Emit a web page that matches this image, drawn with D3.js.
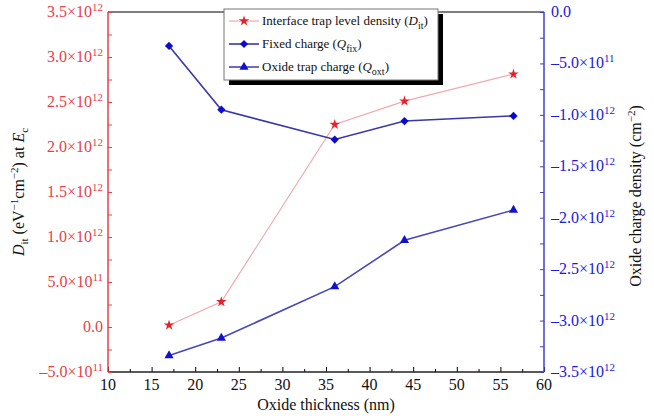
<!DOCTYPE html>
<html>
<head>
<meta charset="utf-8">
<script src="https://cdn.jsdelivr.net/npm/d3@7"></script>
<style>
  body { margin: 0; background: #fff; }
</style>
</head>
<body>
<div id="chart"></div>
<script>
// data
var thickness = [17, 23, 36, 44, 56.5];
var dit = [0.02e12, 0.28e12, 2.25e12, 2.51e12, 2.81e12];
var qfix = [-0.33e12, -0.95e12, -1.24e12, -1.06e12, -1.01e12];
var qoxt = [-3.34e12, -3.17e12, -2.67e12, -2.22e12, -1.925e12];
var xTicks = [10, 15, 20, 25, 30, 35, 40, 45, 50, 55, 60];
var leftTicks = [-0.5e12, 0, 0.5e12, 1e12, 1.5e12, 2e12, 2.5e12, 3e12, 3.5e12];
var rightTicks = [0, -0.5e12, -1e12, -1.5e12, -2e12, -2.5e12, -3e12, -3.5e12];

var width = 654, height = 416;
var m = {left: 108, right: 110, top: 12, bottom: 44};

var svg = d3.select("#chart").append("svg")
    .attr("width", width)
    .attr("height", height)
    .attr("font-family", "'Liberation Serif', 'DejaVu Serif', 'Times New Roman', serif");

var x = d3.scaleLinear().domain([10, 60]).range([m.left, width - m.right]);
var yL = d3.scaleLinear().domain([-0.5e12, 3.5e12]).range([height - m.bottom, m.top]);
var yR = d3.scaleLinear().domain([-3.5e12, 0]).range([height - m.bottom, m.top]);

var red = "#e8404a", blue = "#1a1ae0";

// label like 3.5x10^12 with superscript
function sciLabel(sel, v) {
  sel.text(null);
  if (v === 0) { sel.append("tspan").text("0.0"); return; }
  var neg = v < 0, a = Math.abs(v);
  var e = Math.floor(Math.log10(a) + 1e-9);
  var mant = (a / Math.pow(10, e)).toFixed(1);
  sel.append("tspan").text((neg ? "\u2013" : "") + mant + "\u00d710");
  sel.append("tspan").attr("dy", -6).attr("font-size", 11).text(e);
}

// bottom axis
var xAxis = svg.append("g")
    .attr("transform", "translate(0," + (height - m.bottom) + ")")
    .call(d3.axisBottom(x).tickValues(d3.range(10, 60.1, 2.5)).tickSize(-5).tickFormat(""));
xAxis.selectAll(".tick line").attr("y2", function(d) { return d % 5 === 0 ? -5 : -3; });
xAxis.select(".domain").remove();
svg.append("line").attr("x1", m.left).attr("x2", width - m.right)
  .attr("y1", height - m.bottom).attr("y2", height - m.bottom).attr("stroke", "#222").attr("stroke-width", 1.5);
svg.append("line").attr("x1", m.left).attr("x2", width - m.right)
  .attr("y1", m.top).attr("y2", m.top).attr("stroke", "#555").attr("stroke-width", 1.5);
svg.selectAll(".xlab").data(xTicks).enter().append("text")
  .attr("x", function(d) { return x(d); })
  .attr("y", height - m.bottom + 18)
  .attr("text-anchor", "middle")
  .attr("font-size", 16)
  .attr("fill", "#111")
  .text(function(d) { return d; });
svg.append("text").attr("x", x(35)).attr("y", 410).attr("text-anchor", "middle")
  .attr("font-size", 16).attr("fill", "#111").text("Oxide thickness (nm)");

// left axis (red)
var lAxis = svg.append("g")
    .attr("transform", "translate(" + m.left + ",0)")
    .call(d3.axisRight(yL).tickValues(d3.range(-0.5e12, 3.51e12, 0.25e12)).tickFormat("").tickSize(4));
lAxis.select(".domain").remove();
lAxis.selectAll(".tick line").attr("stroke", red);
svg.append("line").attr("x1", m.left).attr("x2", m.left)
  .attr("y1", m.top).attr("y2", height - m.bottom).attr("stroke", red).attr("stroke-opacity", 0.75).attr("stroke-width", 2);
svg.selectAll(".llab").data(leftTicks).enter().append("text")
  .attr("x", m.left - 5)
  .attr("y", function(d) { return yL(d) + 5; })
  .attr("text-anchor", "end")
  .attr("font-size", 16)
  .attr("fill", red)
  .each(function(d) { sciLabel(d3.select(this), d); });

// right axis (blue)
var rAxis = svg.append("g")
    .attr("transform", "translate(" + (width - m.right) + ",0)")
    .call(d3.axisLeft(yR).tickValues(d3.range(-3.5e12, 0.01e12, 0.25e12)).tickFormat("").tickSize(4));
rAxis.select(".domain").remove();
rAxis.selectAll(".tick line").attr("stroke", "#4040c0");
svg.append("line").attr("x1", width - m.right).attr("x2", width - m.right)
  .attr("y1", m.top).attr("y2", height - m.bottom).attr("stroke", "#4040c8").attr("stroke-opacity", 0.75).attr("stroke-width", 2);
svg.selectAll(".rlab").data(rightTicks).enter().append("text")
  .attr("x", width - m.right + 7)
  .attr("y", function(d) { return yR(d) + 5; })
  .attr("text-anchor", "start")
  .attr("font-size", 16)
  .attr("fill", blue)
  .each(function(d) { sciLabel(d3.select(this), d); });

// axis titles
var lt = svg.append("text")
  .attr("transform", "translate(24," + ((m.top + height - m.bottom) / 2) + ") rotate(-90)")
  .attr("text-anchor", "middle").attr("font-size", 16).attr("fill", "#111");
lt.append("tspan").attr("font-style", "italic").text("D");
lt.append("tspan").attr("dy", 4).attr("font-size", 11).text("it");
lt.append("tspan").attr("dy", -4).text(" (eV");
lt.append("tspan").attr("dy", -6).attr("font-size", 11).text("\u22121");
lt.append("tspan").attr("dy", 6).text("cm");
lt.append("tspan").attr("dy", -6).attr("font-size", 11).text("\u22122");
lt.append("tspan").attr("dy", 6).text(") at ");
lt.append("tspan").attr("font-style", "italic").text("E");
lt.append("tspan").attr("dy", 4).attr("font-size", 11).text("c");

var rt = svg.append("text")
  .attr("transform", "translate(641,196) rotate(-90)")
  .attr("text-anchor", "middle").attr("font-size", 16).attr("fill", "#111");
rt.append("tspan").text("Oxide charge density (cm");
rt.append("tspan").attr("dy", -6).attr("font-size", 11).text("\u22122");
rt.append("tspan").attr("dy", 6).text(")");

// series
var star = d3.symbol().type(d3.symbolStar).size(34);
var diamond = d3.symbol().type(d3.symbolSquare).size(34);
var tri = d3.symbol().type(d3.symbolTriangle).size(36);

var series = [
  {vals: dit, scale: yL, line: "#f0a8b0", lw: 1.2, mark: star, rot: 0, fill: "#e8202a"},
  {vals: qfix, scale: yR, line: "#3838a8", lw: 1.6, mark: diamond, rot: 45, fill: "#0a0ad8"},
  {vals: qoxt, scale: yR, line: "#4848b8", lw: 1.6, mark: tri, rot: 0, fill: "#1010d0"}
];

series.forEach(function(s) {
  var pts = thickness.map(function(t, i) { return [x(t), s.scale(s.vals[i])]; });
  svg.append("path").datum(pts)
    .attr("d", d3.line())
    .attr("fill", "none")
    .attr("stroke", s.line)
    .attr("stroke-width", s.lw);
  svg.selectAll(null).data(pts).enter().append("path")
    .attr("d", s.mark)
    .attr("transform", function(p) { return "translate(" + p[0] + "," + p[1] + ") rotate(" + s.rot + ")"; })
    .attr("fill", s.fill);
});

// legend
var lg = svg.append("g").attr("transform", "translate(224,9)");
lg.append("rect").attr("x", 5).attr("y", 5).attr("width", 214).attr("height", 71).attr("fill", "#000");
lg.append("rect").attr("x", 0).attr("y", 0).attr("width", 214).attr("height", 71)
  .attr("fill", "#fff").attr("stroke", "#777").attr("stroke-width", 1);
var legendNames = [
  ["Interface trap level density (", "D", "it", ")"],
  ["Fixed charge (", "Q", "fix", ")"],
  ["Oxide trap charge (", "Q", "oxt", ")"]
];
legendNames.forEach(function(n, i) {
  var s = series[i], cy = 12 + i * 23;
  lg.append("line").attr("x1", 5).attr("x2", 35).attr("y1", cy).attr("y2", cy)
    .attr("stroke", s.line).attr("stroke-width", s.lw);
  lg.append("path").attr("d", s.mark).attr("transform", "translate(20," + cy + ") rotate(" + s.rot + ")").attr("fill", s.fill);
  var t = lg.append("text").attr("x", 38).attr("y", cy + 4).attr("font-size", 13).attr("fill", "#111");
  t.append("tspan").text(n[0]);
  t.append("tspan").attr("font-style", "italic").text(n[1]);
  t.append("tspan").attr("dy", 4).attr("font-size", 10).text(n[2]);
  t.append("tspan").attr("dy", -4).text(n[3]);
});
</script>
</body>
</html>
